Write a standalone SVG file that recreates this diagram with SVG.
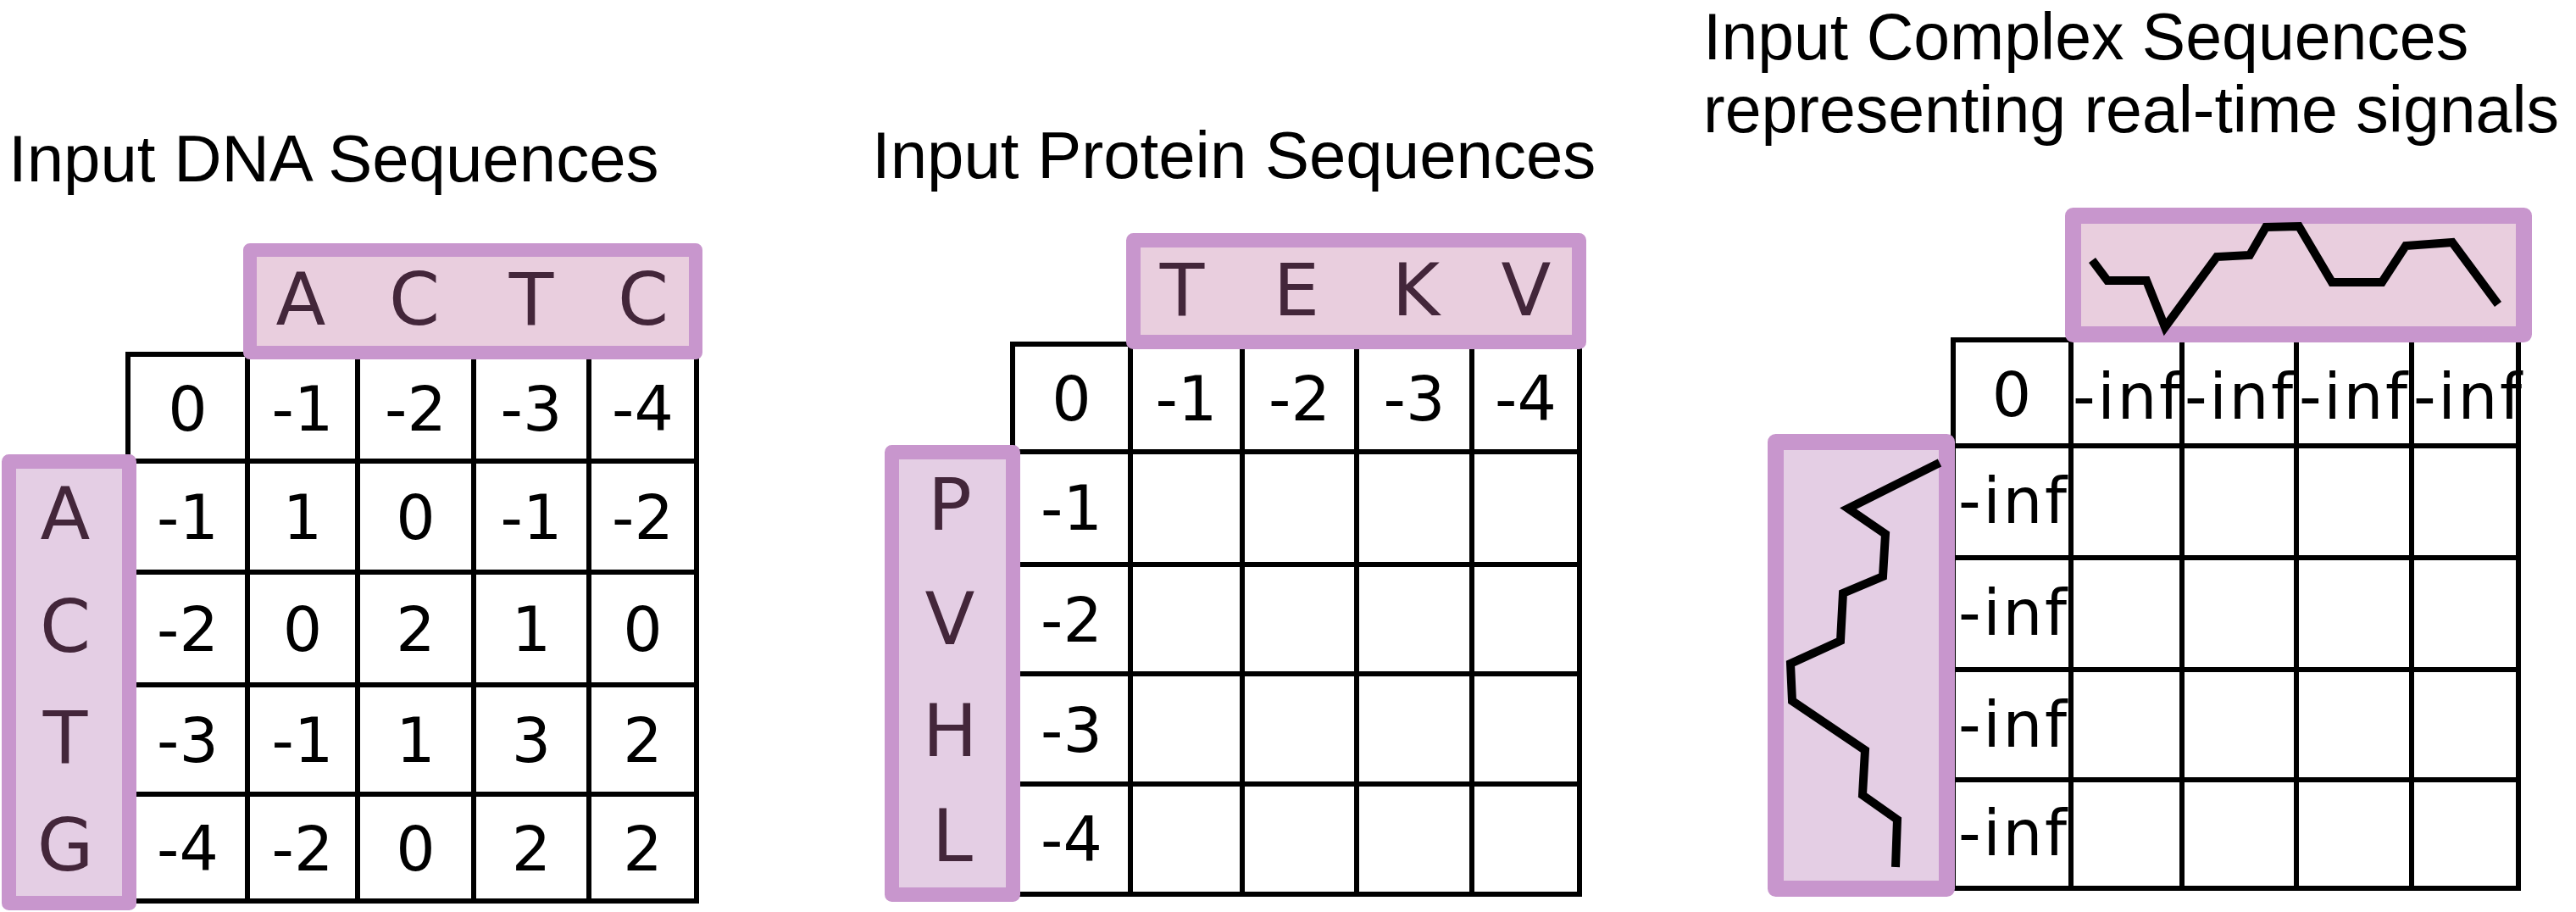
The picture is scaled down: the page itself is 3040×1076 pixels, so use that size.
<svg xmlns="http://www.w3.org/2000/svg" width="3040" height="1076" viewBox="0 0 3040 1076">
<style>
.title{font-family:"Liberation Sans",Arial,sans-serif;font-size:78px;fill:#000}
.title2{font-family:"Liberation Sans",Arial,sans-serif;font-size:77px;fill:#000}
.num{font-family:"DejaVu Sans",Verdana,sans-serif;font-size:73px;fill:#000;text-anchor:middle}
.inf{font-family:"DejaVu Sans",Verdana,sans-serif;font-size:74px;fill:#000}
.seq{font-family:"DejaVu Sans",Verdana,sans-serif;font-size:86px;fill:#43263A;text-anchor:middle}
.grid{fill:none;stroke:#000;stroke-width:6;stroke-linecap:square}
.boxT{fill:#E9CEDE;stroke:#C896CD;stroke-linejoin:round}
.boxL{fill:#E4CEE4;stroke:#C896CD;stroke-linejoin:round}
.sig{fill:none;stroke:#000;stroke-width:10;stroke-linejoin:miter;stroke-linecap:butt}
</style>

<g id="panel-dna">
  <text class="title" x="10" y="214">Input DNA Sequences</text>
  <g id="dna-grid" class="grid">
    <path d="M151,418 H822 M151,544 H822 M151,675 H822 M151,808 H822 M151,937 H822 M151,1063 H822"/>
    <path d="M151,418 V1063 M292,418 V1063 M422,418 V1063 M559,418 V1063 M695,418 V1063 M822,418 V1063"/>
  </g>
  <g id="dna-values" class="num">
    <text x="221.5" y="508">0</text><text x="357" y="508">-1</text><text x="490.5" y="508">-2</text><text x="627" y="508">-3</text><text x="758.5" y="508">-4</text>
    <text x="221.5" y="636">-1</text><text x="357" y="636">1</text><text x="490.5" y="636">0</text><text x="627" y="636">-1</text><text x="758.5" y="636">-2</text>
    <text x="221.5" y="768">-2</text><text x="357" y="768">0</text><text x="490.5" y="768">2</text><text x="627" y="768">1</text><text x="758.5" y="768">0</text>
    <text x="221.5" y="899">-3</text><text x="357" y="899">-1</text><text x="490.5" y="899">1</text><text x="627" y="899">3</text><text x="758.5" y="899">2</text>
    <text x="221.5" y="1027">-4</text><text x="357" y="1027">-2</text><text x="490.5" y="1027">0</text><text x="627" y="1027">2</text><text x="758.5" y="1027">2</text>
  </g>
  <g id="dna-top-seq">
    <rect class="boxT" x="295" y="295" width="526" height="121" stroke-width="16"/>
    <text class="seq" x="355" y="383">A</text><text class="seq" x="489" y="383">C</text><text class="seq" x="627" y="383">T</text><text class="seq" x="759" y="383">C</text>
  </g>
  <g id="dna-left-seq">
    <rect class="boxL" x="10.5" y="544.5" width="142" height="521" stroke-width="17"/>
    <text class="seq" x="77" y="636">A</text><text class="seq" x="77" y="769">C</text><text class="seq" x="77" y="900">T</text><text class="seq" x="77" y="1027">G</text>
  </g>
</g>

<g id="panel-protein">
  <text class="title" x="1029" y="210">Input Protein Sequences</text>
  <g id="protein-grid" class="grid">
    <path d="M1195,406 H1864 M1195,533 H1864 M1195,666 H1864 M1195,795 H1864 M1195,925 H1864 M1195,1055 H1864"/>
    <path d="M1195,406 V1055 M1334,406 V1055 M1466,406 V1055 M1601,406 V1055 M1737,406 V1055 M1864,406 V1055"/>
  </g>
  <g id="protein-values" class="num">
    <text x="1264.5" y="496">0</text><text x="1400" y="496">-1</text><text x="1533.5" y="496">-2</text><text x="1669" y="496">-3</text><text x="1800.5" y="496">-4</text>
    <text x="1264.5" y="625">-1</text>
    <text x="1264.5" y="757">-2</text>
    <text x="1264.5" y="887">-3</text>
    <text x="1264.5" y="1016">-4</text>
  </g>
  <g id="protein-top-seq">
    <rect class="boxT" x="1337.5" y="283.5" width="526" height="120" stroke-width="17"/>
    <text class="seq" x="1395" y="372">T</text><text class="seq" x="1530" y="372">E</text><text class="seq" x="1671" y="372">K</text><text class="seq" x="1801" y="372">V</text>
  </g>
  <g id="protein-left-seq">
    <rect class="boxL" x="1052.5" y="533.5" width="143" height="522" stroke-width="17"/>
    <text class="seq" x="1121" y="625">P</text><text class="seq" x="1121" y="760">V</text><text class="seq" x="1121" y="892">H</text><text class="seq" x="1124" y="1016">L</text>
  </g>
</g>

<g id="panel-complex">
  <text class="title2" x="2010" y="70">Input Complex Sequences</text>
  <text class="title2" x="2010" y="156">representing real-time signals</text>
  <g id="complex-grid" class="grid">
    <path d="M2305,401 H2972 M2305,526 H2972 M2305,658 H2972 M2305,790 H2972 M2305,920 H2972 M2305,1048 H2972"/>
    <path d="M2305,401 V1048 M2444,401 V1048 M2575,401 V1048 M2710,401 V1048 M2846,401 V1048 M2972,401 V1048"/>
  </g>
  <g id="complex-values">
    <text class="num" x="2374" y="491">0</text>
    <text class="inf" x="2446" y="494" textLength="128">-inf</text>
    <text class="inf" x="2578" y="494" textLength="128">-inf</text>
    <text class="inf" x="2713" y="494" textLength="128">-inf</text>
    <text class="inf" x="2848" y="494" textLength="128">-inf</text>
    <text class="inf" x="2311" y="617" textLength="128">-inf</text>
    <text class="inf" x="2311" y="749" textLength="128">-inf</text>
    <text class="inf" x="2311" y="881" textLength="128">-inf</text>
    <text class="inf" x="2311" y="1009" textLength="128">-inf</text>
  </g>
  <g id="complex-top-signal">
    <rect class="boxT" x="2446.5" y="254.5" width="532" height="140" stroke-width="19"/>
    <polyline class="sig" points="2469,307 2487,331 2533,331 2555,386 2616,303 2655,301 2674,268 2713,267 2752,333 2811,333 2839,290 2894,286 2948,359"/>
  </g>
  <g id="complex-left-signal">
    <rect class="boxL" x="2095.5" y="521.5" width="202" height="527" stroke-width="19"/>
    <polyline class="sig" points="2289,546 2181,600 2225,630 2222,680 2175,700 2172,756 2113,783 2115,827 2201,885 2198,938 2239,967 2237,1023"/>
  </g>
</g>
</svg>
